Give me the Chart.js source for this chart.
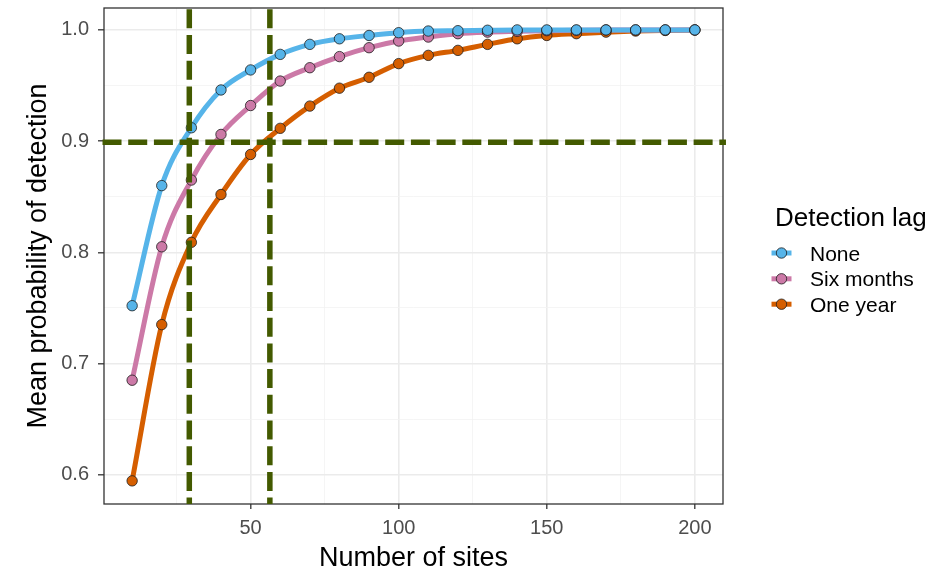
<!DOCTYPE html>
<html>
<head>
<meta charset="utf-8">
<script src="https://cdn.jsdelivr.net/npm/chart.js@4.4.1/dist/chart.umd.min.js"></script>
<style>
  html, body { margin: 0; padding: 0; background: #ffffff; }
  canvas { display: block; }
</style>
</head>
<body>
<canvas id="chart" width="947" height="575"></canvas>
<script>
// Number of sites surveyed
const sites = [10, 20, 30, 40, 50, 60, 70, 80, 90, 100, 110, 120, 130, 140, 150, 160, 170, 180, 190, 200];

// Mean probability of detection for each detection lag
const probNone      = [0.752, 0.860, 0.912, 0.946, 0.964, 0.978, 0.987, 0.992, 0.995, 0.9975, 0.999, 0.9993, 0.9997, 1.0, 1.0, 1.0, 1.0, 1.0, 1.0, 1.0];
const probSixMonths = [0.685, 0.805, 0.865, 0.906, 0.932, 0.954, 0.966, 0.976, 0.984, 0.990, 0.9936, 0.9966, 0.998, 0.9987, 0.9993, 0.9997, 1.0, 1.0, 1.0, 1.0];
const probOneYear   = [0.5945, 0.735, 0.809, 0.852, 0.888, 0.9115, 0.9315, 0.9476, 0.9574, 0.9697, 0.9771, 0.9816, 0.987, 0.992, 0.995, 0.9966, 0.998, 0.999, 0.9995, 0.9998];

const seriesNames   = ['None', 'Six months', 'One year'];
const seriesValues  = [probNone, probSixMonths, probOneYear];
const seriesColours = ['#56B4E9', '#CC79A7', '#D55E00'];

// Axis breaks
const xMajorTicks = [50, 100, 150, 200];
const xMinorTicks = [25, 75, 125, 175];
const yMajorTicks = [0.6, 0.7, 0.8, 0.9, 1.0];
const yMinorTicks = [0.65, 0.75, 0.85, 0.95];

// Reference lines: target probability and the site counts that reach it
const targetProb = 0.899;
const targetSites = [29.3, 56.5];
const targetSpan = [0, 210.5];

const FONT = "'Liberation Sans', Arial, Helvetica, sans-serif";
const REF_COLOUR = '#435a00';

const isIn = (list, v) => list.some(t => Math.abs(t - v) < 1e-9);

const lineSets = seriesNames.map((name, i) => ({
  type: 'line',
  label: name,
  data: sites.map((x, j) => ({ x: x, y: seriesValues[i][j] })),
  borderColor: seriesColours[i],
  borderWidth: 5,
  pointRadius: 0,
  pointHoverRadius: 0,
  cubicInterpolationMode: 'monotone',
  fill: false,
  order: 5 + i
}));

const pointSets = seriesNames.map((name, i) => ({
  type: 'line',
  label: name + ' points',
  data: sites.map((x, j) => ({ x: x, y: seriesValues[i][j] })),
  showLine: false,
  pointRadius: 5.2,
  pointHoverRadius: 5.2,
  pointBackgroundColor: seriesColours[i],
  pointBorderColor: '#1e1e1e',
  pointBorderWidth: 0.8,
  order: 1 + i
}));

const overlay = {
  id: 'overlay',
  afterDatasetsDraw(chart) {
    const { ctx, chartArea: a, scales: { x, y } } = chart;
    ctx.save();
    // panel border
    ctx.strokeStyle = '#333333';
    ctx.lineWidth = 1.3;
    ctx.strokeRect(a.left, a.top, a.right - a.left, a.bottom - a.top);

    // dashed reference lines
    ctx.strokeStyle = REF_COLOUR;
    ctx.lineWidth = 5.5;
    ctx.lineCap = 'butt';
    ctx.setLineDash([19, 6.7]);
    targetSites.forEach(v => {
      const px = x.getPixelForValue(v);
      ctx.beginPath();
      ctx.moveTo(px, a.top + 1.3);
      ctx.lineTo(px, a.bottom);
      ctx.stroke();
    });
    const py = y.getPixelForValue(targetProb);
    ctx.beginPath();
    ctx.moveTo(x.getPixelForValue(targetSpan[0]), py);
    ctx.lineTo(x.getPixelForValue(targetSpan[1]), py);
    ctx.stroke();
    ctx.restore();
  },
  afterDraw(chart) {
    const { ctx, chartArea: a } = chart;
    ctx.save();
    const left = a.right + 52;
    ctx.fillStyle = '#000000';
    ctx.textBaseline = 'alphabetic';
    ctx.textAlign = 'left';
    ctx.font = '26px ' + FONT;
    ctx.fillText('Detection lag', left, 226);

    const baselines = [260.5, 286.3, 311.7];
    ctx.font = '21px ' + FONT;
    seriesNames.forEach((name, i) => {
      const ky = baselines[i] - 7.5;
      ctx.strokeStyle = seriesColours[i];
      ctx.lineWidth = 5;
      ctx.setLineDash([]);
      ctx.beginPath();
      ctx.moveTo(left - 3.5, ky);
      ctx.lineTo(left + 16.5, ky);
      ctx.stroke();
      ctx.beginPath();
      ctx.arc(left + 6.5, ky, 5.2, 0, Math.PI * 2);
      ctx.fillStyle = seriesColours[i];
      ctx.fill();
      ctx.lineWidth = 0.8;
      ctx.strokeStyle = '#1e1e1e';
      ctx.stroke();
      ctx.fillStyle = '#000000';
      ctx.fillText(name, left + 35, baselines[i]);
    });
    ctx.restore();
  }
};

new Chart(document.getElementById('chart'), {
  type: 'line',
  data: { datasets: [...pointSets, ...lineSets] },
  options: {
    responsive: false,
    devicePixelRatio: 1,
    animation: false,
    events: [],
    layout: { padding: { top: 8, right: 224, left: 0, bottom: 0 } },
    plugins: { legend: { display: false }, tooltip: { enabled: false } },
    scales: {
      x: {
        type: 'linear',
        min: 0.5,
        max: 209.5,
        afterBuildTicks: s => {
          s.ticks = [...xMinorTicks, ...xMajorTicks].sort((p, q) => p - q).map(v => ({ value: v }));
        },
        afterFit: s => { s.height = 71; s.paddingLeft = 0; s.paddingRight = 0; },
        border: { display: false },
        grid: {
          color: c => (c.tick && isIn(xMajorTicks, c.tick.value)) ? '#ebebeb' : '#f3f3f3',
          lineWidth: c => (c.tick && isIn(xMajorTicks, c.tick.value)) ? 1.6 : 0.8,
          tickColor: c => (c.tick && isIn(xMajorTicks, c.tick.value)) ? '#333333' : 'rgba(0,0,0,0)',
          tickLength: 5,
          tickWidth: 1.3
        },
        ticks: {
          autoSkip: false,
          maxRotation: 0,
          padding: 7,
          color: '#4d4d4d',
          font: { family: FONT, size: 20 },
          callback: v => isIn(xMajorTicks, v) ? String(v) : ''
        },
        title: {
          display: true,
          text: 'Number of sites',
          color: '#000000',
          font: { family: FONT, size: 27 },
          padding: { top: 0, bottom: 0 }
        }
      },
      y: {
        type: 'linear',
        min: 0.5737,
        max: 1.0197,
        afterBuildTicks: s => {
          s.ticks = [...yMajorTicks, ...yMinorTicks].sort((p, q) => p - q).map(v => ({ value: v }));
        },
        afterFit: s => { s.width = 104; s.paddingTop = 0; s.paddingBottom = 0; },
        border: { display: false },
        grid: {
          color: c => (c.tick && isIn(yMajorTicks, c.tick.value)) ? '#ebebeb' : '#f3f3f3',
          lineWidth: c => (c.tick && isIn(yMajorTicks, c.tick.value)) ? 1.6 : 0.8,
          tickColor: c => (c.tick && isIn(yMajorTicks, c.tick.value)) ? '#333333' : 'rgba(0,0,0,0)',
          tickLength: 6,
          tickWidth: 1.3
        },
        ticks: {
          autoSkip: false,
          padding: 9,
          color: '#4d4d4d',
          font: { family: FONT, size: 20 },
          callback: v => isIn(yMajorTicks, v) ? v.toFixed(1) : ''
        },
        title: {
          display: true,
          text: 'Mean probability of detection',
          color: '#000000',
          font: { family: FONT, size: 27 },
          padding: { top: 22, bottom: 0 }
        }
      }
    }
  },
  plugins: [overlay]
});
</script>
</body>
</html>
